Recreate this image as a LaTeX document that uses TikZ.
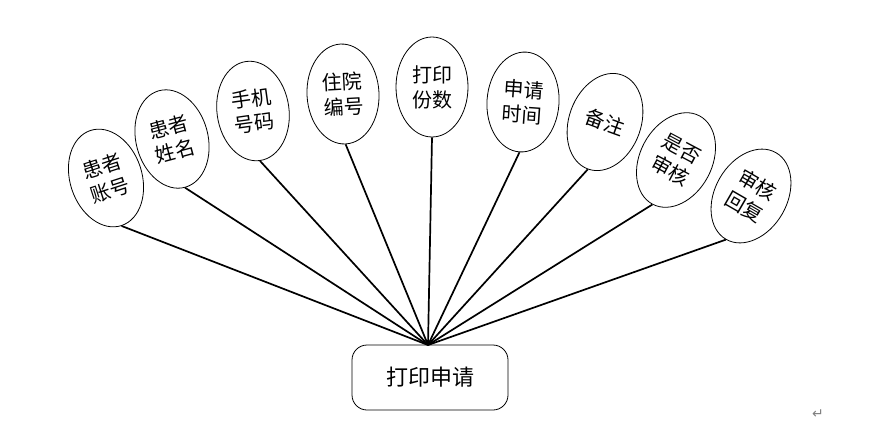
\documentclass[tikz,border=0pt]{standalone}
\usepackage{fontspec}
\newfontfamily\cjk{Noto Sans CJK SC}
\newfontfamily\dejavu{DejaVu Sans}
\usetikzlibrary{shapes.geometric}
\begin{document}
\begin{tikzpicture}[x=1pt,y=-1pt,
  attr/.style={draw=black,line width=0.8pt,ellipse,minimum width=72pt,minimum height=100pt,inner sep=0pt,align=center,font=\cjk\fontsize{20}{25}\selectfont},
  entity/.style={draw=black,line width=0.8pt,rounded corners=15pt,minimum width=156pt,minimum height=65pt,font=\cjk\fontsize{22}{25}\selectfont},
  link/.style={line width=1.7pt}]
\useasboundingbox (0,0) rectangle (876,432);
\node[entity] (hub) at (430,377.5) {打印申请};
\node[attr,rotate=18] (e1) at (106,178) {患者\\账号};
\node[attr,rotate=15] (e2) at (172,139) {患者\\姓名};
\node[attr,rotate=8] (e3) at (253,111) {手机\\号码};
\node[attr,rotate=3] (e4) at (343,94) {住院\\编号};
\node[attr,rotate=0] (e5) at (432,87) {打印\\份数};
\node[attr,rotate=-4] (e6) at (523,102) {申请\\时间};
\node[attr,rotate=-20] (e7) at (605,122) {备注};
\node[attr,rotate=-28] (e8) at (676,160) {是否\\审核};
\node[attr,rotate=-30] (e9) at (751,196) {审核\\回复};
\coordinate (hubtop) at (428,345);
\foreach \i in {1,...,9} \draw[link] (hubtop) -- (e\i.south);
\node[text=gray,font=\dejavu\fontsize{14}{14}\selectfont] (pm) at (818,414) {↵};
\end{tikzpicture}
\end{document}
